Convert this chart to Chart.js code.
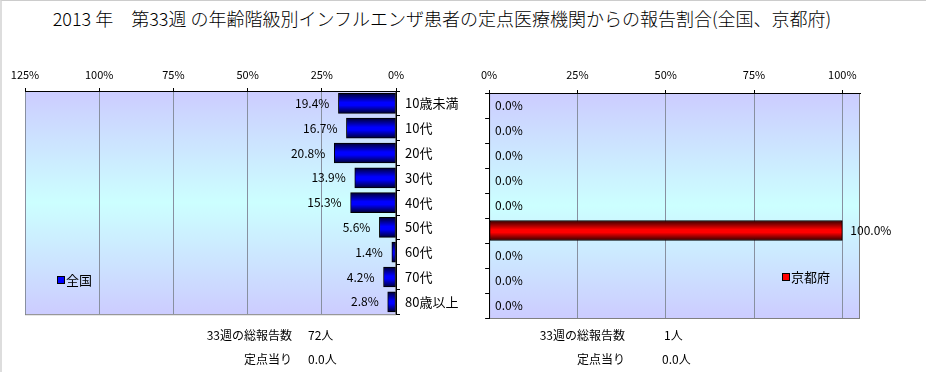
<!DOCTYPE html>
<html>
<head>
<meta charset="utf-8">
<script src="https://cdn.jsdelivr.net/npm/chart.js@4"></script>
<style>
  body { margin: 0; background: #fff; font-family: "Noto Sans CJK JP", sans-serif; }
  #page { position: relative; width: 926px; height: 372px; overflow: hidden;
          border-top: 1px solid #ccc; border-left: 2px solid #ddd; box-sizing: border-box; }
  .txt { position: absolute; font-size: 12px; color: #000; white-space: nowrap; }
  .r { text-align: right; width: 120px; }
  #title { position: absolute; left: 0; width: 880px; top: 4px; text-align: center; font-size: 18px; font-weight: 300; }
  #c1 { position: absolute; left: 0; top: 60px; }
  #c2 { position: absolute; left: 470px; top: 60px; }
</style>
</head>
<body>
<div id="page">
  <div id="title">2013 年　第33週 の年齢階級別インフルエンザ患者の定点医療機関からの報告割合(全国、京都府)</div>
  <canvas id="c1" width="470" height="266"></canvas>
  <canvas id="c2" width="456" height="260"></canvas>
  <div class="txt r" style="left:170px;top:325px;">33週の総報告数</div>
  <div class="txt" style="left:306px;top:325px;">72人</div>
  <div class="txt r" style="left:170px;top:349px;">定点当り</div>
  <div class="txt" style="left:306px;top:349px;">0.0人</div>
  <div class="txt r" style="left:503px;top:325px;">33週の総報告数</div>
  <div class="txt" style="left:662px;top:325px;">1人</div>
  <div class="txt r" style="left:503px;top:349px;">定点当り</div>
  <div class="txt" style="left:660px;top:349px;">0.0人</div>
</div>
<script>
// 年齢階級
const ageGroups = ['10歳未満', '10代', '20代', '30代', '40代', '50代', '60代', '70代', '80歳以上'];
// 全国の報告割合 (%)
const nationalValues = [19.4, 16.7, 20.8, 13.9, 15.3, 5.6, 1.4, 4.2, 2.8];
// 京都府の報告割合 (%)
const kyotoValues = [0, 0, 0, 0, 0, 100, 0, 0, 0];

const FONT = '"Noto Sans CJK JP", sans-serif';

// 背景のグラデーション
const plotBg = {
    id: 'plotBg',
    beforeDraw(chart) {
        const a = chart.chartArea, ctx = chart.ctx;
        const g = ctx.createLinearGradient(0, a.top, 0, a.bottom);
        g.addColorStop(0, '#ccccff');
        g.addColorStop(0.5, '#ccffff');
        g.addColorStop(1, '#ccccff');
        ctx.save();
        ctx.fillStyle = g;
        ctx.fillRect(a.left, a.top, a.right - a.left, a.bottom - a.top);
        ctx.strokeStyle = '#808080';
        ctx.lineWidth = 1;
        ctx.strokeRect(a.left + 0.5, a.top + 0.5, a.right - a.left - 1, a.bottom - a.top);
        ctx.restore();
    }
};

// 値ラベルと凡例
const labelsPlugin = {
    id: 'labelsPlugin',
    afterDatasetsDraw(chart, args, opts) {
        const ctx = chart.ctx;
        const meta = chart.getDatasetMeta(0);
        const ds = chart.data.datasets[0];
        ctx.save();
        ctx.font = '12px ' + FONT;
        ctx.fillStyle = '#000';
        ctx.textBaseline = 'middle';
        meta.data.forEach((bar, i) => {
            const v = ds.data[i];
            const t = v.toFixed(1) + '%';
            if (opts.side === 'left') {
                ctx.textAlign = 'right';
                ctx.fillText(t, bar.x - 9, bar.y);
            } else if (v === 0) {
                ctx.textAlign = 'left';
                ctx.fillText(t, chart.chartArea.left + 6, bar.y);
            } else {
                ctx.textAlign = 'left';
                ctx.fillText(t, bar.x + 8, bar.y);
            }
        });
        // 凡例
        const lx = opts.legendX, ly = opts.legendY;
        ctx.fillStyle = opts.legendColor;
        ctx.fillRect(lx, ly - 3, 6, 6);
        ctx.strokeStyle = '#000';
        ctx.lineWidth = 1;
        ctx.strokeRect(lx - 0.5, ly - 3.5, 7, 7);
        ctx.fillStyle = '#000';
        ctx.textAlign = 'left';
        ctx.font = '13px ' + FONT;
        ctx.fillText(ds.label, lx + 8, ly);
        ctx.restore();
    }
};

function barFill(dark, bright) {
    return (c) => {
        const chart = c.chart;
        if (!chart.chartArea) return bright;
        const y = chart.scales.y.getPixelForValue(c.dataIndex);
        const g = chart.ctx.createLinearGradient(0, y - 10, 0, y + 10);
        g.addColorStop(0, dark);
        g.addColorStop(0.45, bright);
        g.addColorStop(0.6, bright);
        g.addColorStop(1, dark);
        return g;
    };
}

function makeChart(id, opt) {
    return new Chart(document.getElementById(id), {
        type: 'bar',
        data: {
            labels: ageGroups,
            datasets: [{
                label: opt.label,
                data: opt.values,
                backgroundColor: barFill(opt.dark, opt.bright),
                borderColor: '#000',
                borderWidth: 1,
                borderSkipped: false,
                barThickness: 20
            }]
        },
        options: {
            indexAxis: 'y',
            responsive: false,
            animation: false,
            layout: { padding: opt.padding },
            plugins: {
                legend: { display: false },
                tooltip: { enabled: false },
                labelsPlugin: opt.plug
            },
            scales: {
                x: {
                    position: 'top',
                    reverse: opt.reverse,
                    min: 0,
                    max: opt.max,
                    afterBuildTicks: (s) => { s.ticks = opt.xTicks.map(v => ({ value: v })); },
                    ticks: {
                        padding: opt.tickPad,
                        color: '#000',
                        font: { family: FONT, size: 11 },
                        callback: (v) => v + '%'
                    },
                    grid: { color: '#8890a0', tickLength: 3, tickColor: '#000' },
                    border: { color: '#000' },
                    afterFit: (s) => { s.height = opt.xHeight; }
                },
                y: {
                    position: opt.yPos,
                    ticks: {
                        display: opt.showCats,
                        padding: 5,
                        color: '#000',
                        font: { family: FONT, size: 13 }
                    },
                    grid: { drawOnChartArea: false, offset: true, tickLength: 4, color: '#000' },
                    border: { color: '#000' },
                    afterFit: (s) => { s.width = opt.yWidth; }
                }
            }
        },
        plugins: [plotBg, labelsPlugin]
    });
}

makeChart('c1', {
    label: '全国',
    values: nationalValues,
    dark: '#000033', bright: '#0000ff',
    reverse: true, max: 125, xTicks: [0, 25, 50, 75, 100, 125],
    padding: { left: 23, right: 0, top: 0, bottom: 0 },
    tickPad: 7, xHeight: 30,
    yPos: 'right', showCats: true, yWidth: 76,
    plug: { side: 'left', legendX: 56, legendY: 219, legendColor: '#0000ff' }
});

makeChart('c2', {
    label: '京都府',
    values: kyotoValues,
    dark: '#330000', bright: '#ff0000',
    reverse: false, max: 105, xTicks: [0, 25, 50, 75, 100],
    padding: { left: 12, right: 68, top: 0, bottom: 3 },
    tickPad: 9, xHeight: 32,
    yPos: 'left', showCats: false, yWidth: 4,
    plug: { side: 'right', legendX: 311, legendY: 216, legendColor: '#ff0000' }
});
</script>
</body>
</html>
